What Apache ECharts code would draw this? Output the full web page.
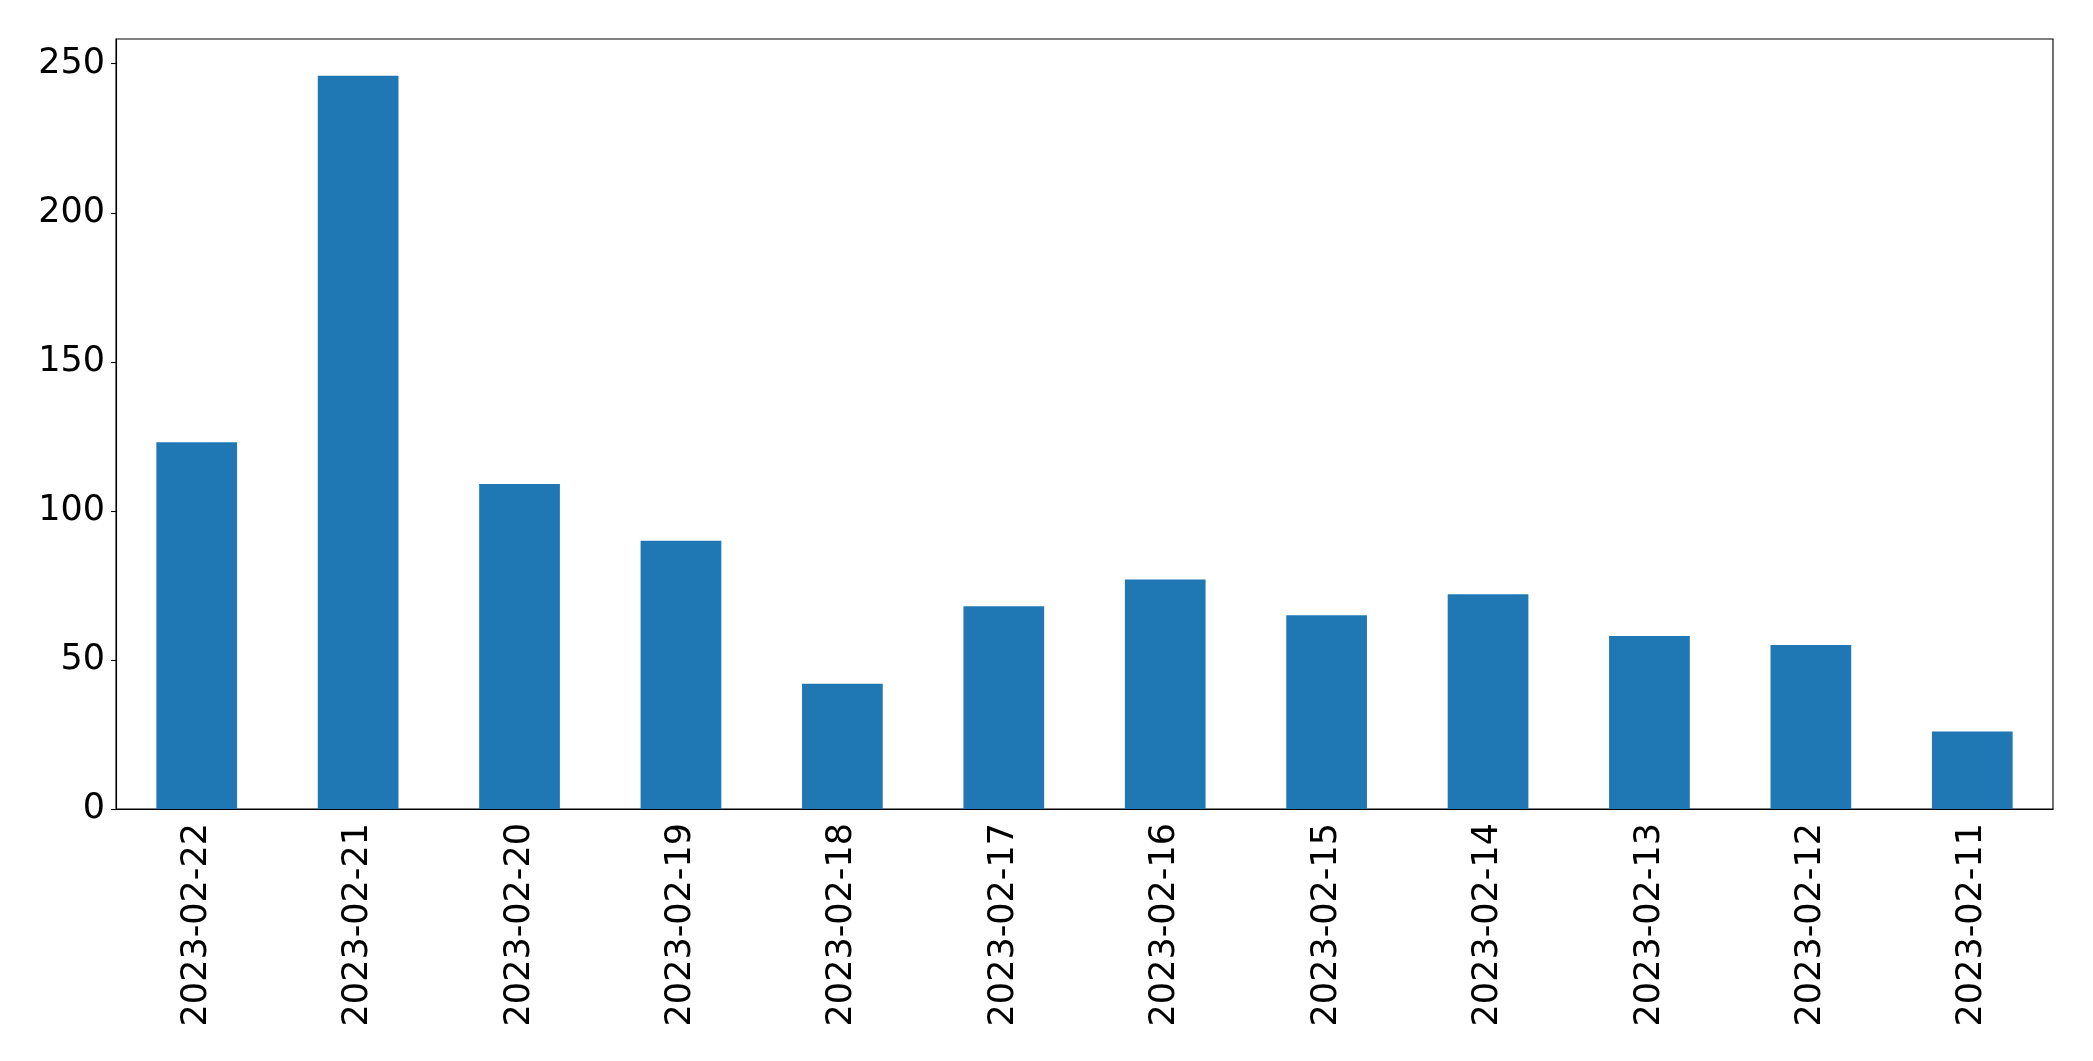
<!DOCTYPE html>
<html>
<head>
<meta charset="utf-8">
<script src="https://cdn.jsdelivr.net/npm/echarts@6/dist/echarts.min.js"></script>
<style>
  html, body { margin: 0; padding: 0; background: #fff; }
  #chart { width: 2093px; height: 1061px; }
</style>
</head>
<body>
<div id="chart"></div>
<script>
var dates = ['2023-02-22', '2023-02-21', '2023-02-20', '2023-02-19', '2023-02-18', '2023-02-17',
             '2023-02-16', '2023-02-15', '2023-02-14', '2023-02-13', '2023-02-12', '2023-02-11'];
var counts = [123, 246, 109, 90, 42, 68, 77, 65, 72, 58, 55, 26];
var yTicks = [0, 50, 100, 150, 200, 250];

var myChart = echarts.init(document.getElementById('chart'));
var font = 'DejaVu Sans';

var option = {
    animation: false,
    grid: {
        left: 116,
        right: 40,
        top: 39,
        bottom: 252,
        show: true,
        borderColor: '#000',
        borderWidth: 1.1
    },
    xAxis: {
        type: 'category',
        data: dates,
        axisLine: { lineStyle: { color: '#000', width: 1.1 } },
        axisTick: { alignWithLabel: true, length: 5, lineStyle: { color: '#000', width: 1.1 } },
        axisLabel: {
            rotate: 90,
            margin: 14,
            fontSize: 35,
            fontFamily: font,
            color: '#000',
            interval: 0
        }
    },
    yAxis: {
        type: 'value',
        min: 0,
        max: 258.3,
        interval: 50,
        splitLine: { show: false },
        axisLine: { show: true, lineStyle: { color: '#000', width: 1.1 } },
        axisTick: { show: true, length: 5, customValues: yTicks, lineStyle: { color: '#000', width: 1.1 } },
        axisLabel: {
            margin: 11,
            fontSize: 35,
            fontFamily: font,
            color: '#000',
            customValues: yTicks
        }
    },
    series: [{
        type: 'bar',
        data: counts,
        barWidth: '50%',
        itemStyle: { color: '#1f77b4' }
    }]
};
myChart.setOption(option);
</script>
</body>
</html>
